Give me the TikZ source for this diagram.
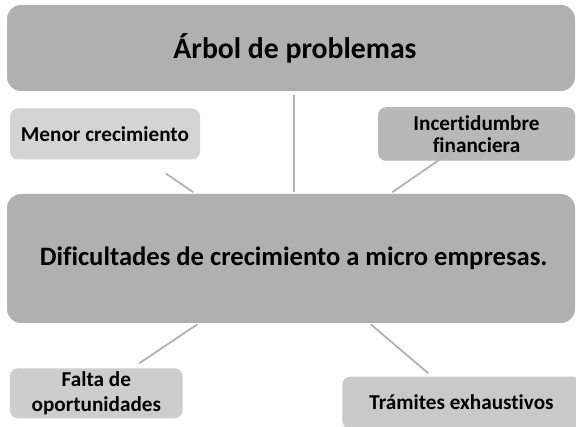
\documentclass[tikz,border=0pt]{standalone}
\usepackage{fontspec}
\setmainfont{Carlito}[Ligatures=NoCommon]
\begin{document}
\begin{tikzpicture}[x=1pt,y=-1pt,
  box/.style={rounded corners=#1, inner sep=0pt, align=center, font=\bfseries, text=black},
  big/.style={box=14pt, fill=boxdark},
  small/.style={box=8pt},
  link/.style={draw=linegray, line width=1.8pt}]
\definecolor{boxdark}{HTML}{B0B0B0}
\definecolor{boxlight}{HTML}{D4D4D4}
\definecolor{boxmid}{HTML}{B8B8B8}
\definecolor{boxfalta}{HTML}{CDCDCD}
\definecolor{boxtram}{HTML}{C9C9C9}
\definecolor{linegray}{HTML}{B4B4B4}
\useasboundingbox (0,0) rectangle (576,427);
\fill[white] (0,0) rectangle (576,427);
% boxes
\node[big, minimum width=568pt, minimum height=86pt] (top) at (291,48) {};
\node[font=\bfseries\fontsize{29.7}{34}\selectfont] (toptext) at (295,48) {Árbol de problemas};
\node[small, fill=boxlight, minimum width=190pt, minimum height=51pt,
      font=\bfseries\fontsize{21.2}{24}\selectfont] (menor) at (105,134) {Menor crecimiento};
\node[small, fill=boxmid, minimum width=197pt, minimum height=53.5pt,
      font=\bfseries\fontsize{21.2}{22.5}\selectfont] (incert) at (476.5,134) {Incertidumbre\\financiera};
\node[big, minimum width=568pt, minimum height=129pt] (main) at (291,258.5) {};
\node[font=\bfseries\fontsize{26.6}{31}\selectfont] (maintext) at (293.7,258) {Dificultades de crecimiento a micro empresas.};
\node[small, fill=boxfalta, minimum width=172.7pt, minimum height=50pt,
      font=\bfseries\fontsize{21.2}{25}\selectfont] (falta) at (96.3,393.3) {Falta de\\oportunidades};
\node[small, fill=boxtram, minimum width=238.7pt, minimum height=52pt] (tram) at (461.6,402.7) {};
\node[font=\bfseries\fontsize{21.2}{24}\selectfont] (tramtext) at (461.5,401.7) {Trámites exhaustivos};
% connector ends
\coordinate (tA) at (294.3,95);
\coordinate (tB) at (294.3,192);
\coordinate (mA) at (165.7,173.3);
\coordinate (mB) at (193.3,192.3);
\coordinate (iA) at (453.3,150);
\coordinate (iB) at (392.3,192.3);
\coordinate (fA) at (197.3,324.3);
\coordinate (fB) at (139.3,363.3);
\coordinate (rA) at (370.7,324.3);
\coordinate (rB) at (428.3,373.3);
\draw[link] (tA) -- (tB);
\draw[link] (mA) -- (mB);
\draw[link] (iA) -- (iB);
\draw[link] (fA) -- (fB);
\draw[link] (rA) -- (rB);
\end{tikzpicture}
\end{document}
